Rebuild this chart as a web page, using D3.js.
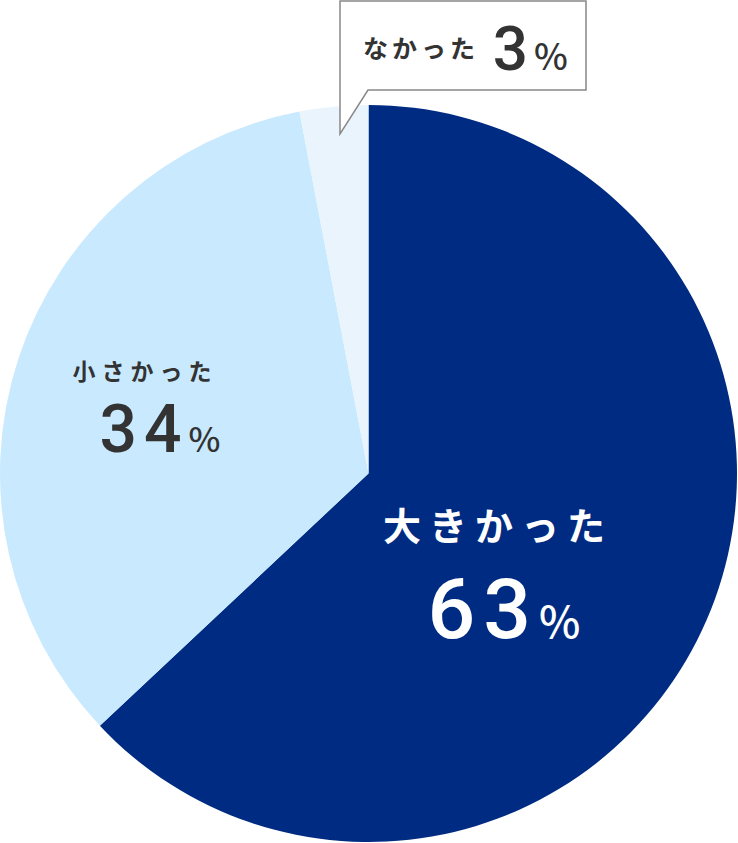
<!DOCTYPE html>
<html>
<head>
<meta charset="utf-8">
<script src="https://cdn.jsdelivr.net/npm/d3@7"></script>
<style>
  html, body { margin: 0; padding: 0; background: #fff; }
  svg { display: block; }
  text { font-family: "Noto Sans CJK JP", "Noto Sans", sans-serif; }
  .num { font-family: Roboto, "Noto Sans CJK JP", sans-serif; font-weight: 500; }
</style>
</head>
<body>
<div id="chart"></div>
<script>
// data
var categories = ['大きかった', '小さかった', 'なかった'];
var values = [63, 34, 3];
var colors = ['#002b82', '#c9eafe', '#eaf4fc'];

var width = 738;
var height = 843;
var cx = 368.5, cy = 473.5, radius = 368.5;

var svg = d3.select('#chart').append('svg')
  .attr('width', width)
  .attr('height', height);

var g = svg.append('g')
  .attr('transform', 'translate(' + cx + ',' + cy + ')');

var pie = d3.pie().sort(null).value(function (d) { return d; });
var arc = d3.arc().innerRadius(0).outerRadius(radius);
var arcs = pie(values);

g.selectAll('path.slice')
  .data(arcs)
  .enter()
  .append('path')
  .attr('class', 'slice')
  .attr('d', arc)
  .attr('fill', function (d, i) { return colors[i]; });

// labels inside slices
function label(x, y, name, value, opt) {
  var t = svg.append('g').attr('transform', 'translate(' + x + ',' + y + ')');
  t.append('text')
    .attr('x', 0).attr('y', 0)
    .attr('text-anchor', 'middle')
    .attr('font-size', opt.nameSize)
    .attr('font-weight', 600)
    .attr('letter-spacing', opt.nameSpacing)
    .attr('fill', opt.color)
    .text(name);
  var v = t.append('text')
    .attr('x', opt.valueDx).attr('y', opt.valueDy)
    .attr('text-anchor', 'middle')
    .attr('fill', opt.color);
  v.append('tspan')
    .attr('class', 'num')
    .attr('font-size', opt.numSize)
    .attr('letter-spacing', opt.numSpacing)
    .text(value);
  v.append('tspan')
    .attr('font-size', opt.pctSize)
    .attr('font-weight', 500)
    .text('%');
}

label(498, 540, categories[0], values[0], {
  color: '#fff', nameSize: 38, nameSpacing: 8,
  valueDx: 6, valueDy: 98, numSize: 84, numSpacing: 8, pctSize: 44
});

label(145, 380, categories[1], values[1], {
  color: '#333', nameSize: 23, nameSpacing: 6,
  valueDx: 15, valueDy: 72, numSize: 66, numSpacing: 7, pctSize: 34
});

// callout for the small slice
var box = { x: 340, y: 1, w: 246, h: 89 };
var tailTip = { x: 340, y: 134 };
var tailBase = 368;
svg.append('path')
  .attr('d', 'M' + box.x + ',' + box.y +
    'H' + (box.x + box.w) +
    'V' + (box.y + box.h) +
    'H' + tailBase +
    'L' + tailTip.x + ',' + tailTip.y +
    'Z')
  .attr('fill', '#fff')
  .attr('stroke', '#888')
  .attr('stroke-width', 1.5);

var c = svg.append('text')
  .attr('x', 363).attr('y', 58)
  .attr('fill', '#333')
  .attr('font-weight', 600);
c.append('tspan')
  .attr('font-size', 25)
  .attr('letter-spacing', 4)
  .text(categories[2] + ' ');
c.append('tspan')
  .attr('class', 'num')
  .attr('font-size', 62)
  .attr('dx', 4)
  .attr('dy', 12)
  .text(values[2]);
c.append('tspan')
  .attr('font-size', 36)
  .attr('font-weight', 500)
  .attr('dx', 6)
  .text('%');
</script>
</body>
</html>
